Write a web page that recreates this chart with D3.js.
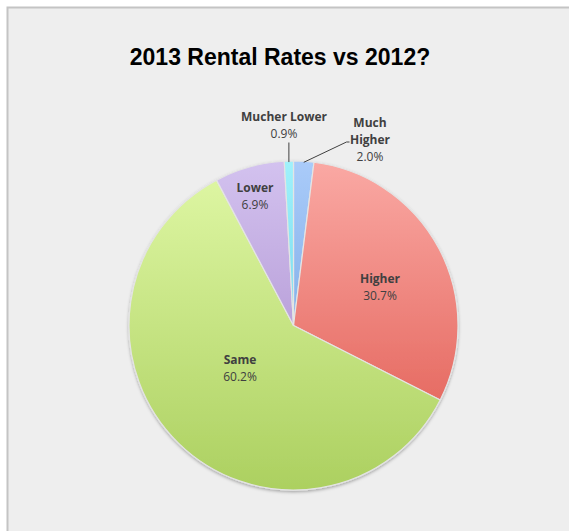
<!DOCTYPE html>
<html><head><meta charset="utf-8">
<script src="https://cdn.jsdelivr.net/npm/d3@7"></script>
<style>html,body{margin:0;padding:0;background:#fff;}svg{display:block;}</style>
</head><body>
<svg id="chart" width="569" height="531"></svg>
<script>
const categories = ["Much Higher", "Higher", "Same", "Lower", "Mucher Lower"];
const values = [2.0, 30.7, 60.2, 6.9, 0.9];
const labelLines = [["Much", "Higher"], ["Higher"], ["Same"], ["Lower"], ["Mucher Lower"]];
const colorsTop = ["#aacbf9", "#faa9a4", "#e0f8a6", "#d3c2ef", "#a0f1fb"];
const colorsBottom = ["#5d97da", "#df554b", "#acd060", "#a282c6", "#52c6df"];
const title = "2013 Rental Rates vs 2012?";

const svg = d3.select("#chart");
svg.append("rect").attr("x", 7.5).attr("y", 7.5).attr("width", 570).attr("height", 540)
  .attr("fill", "#eeeeee").attr("stroke", "#c4c4c4").attr("stroke-width", 2);

svg.append("text").attr("x", 280).attr("y", 65).attr("text-anchor", "middle")
  .attr("font-family", "Liberation Sans, Arial, sans-serif").attr("font-weight", "bold")
  .attr("font-size", 23).attr("fill", "#000").text(title);

const cx = 293.5, cy = 325.5, r = 164.5;
const defs = svg.append("defs");
const f = defs.append("filter").attr("id", "sh").attr("x", "-20%").attr("y", "-20%").attr("width", "140%").attr("height", "140%");
f.append("feDropShadow").attr("dx", 0).attr("dy", 1.5).attr("stdDeviation", 1.5).attr("flood-color", "#000").attr("flood-opacity", 0.3);

categories.forEach((c, i) => {
  const g = defs.append("linearGradient").attr("id", "g" + i).attr("gradientUnits", "userSpaceOnUse")
    .attr("x1", 0).attr("x2", 0).attr("y1", -r).attr("y2", r);
  g.append("stop").attr("offset", 0).attr("stop-color", colorsTop[i]);
  g.append("stop").attr("offset", 1).attr("stop-color", colorsBottom[i]);
});

const pie = d3.pie().sort(null).value(d => d)(values);
const arc = d3.arc().innerRadius(0).outerRadius(r);
const gp = svg.append("g").attr("transform", `translate(${cx},${cy})`);
gp.append("g").attr("filter", "url(#sh)").selectAll("path").data(pie).join("path")
  .attr("d", arc).attr("fill", (d, i) => `url(#g${i})`)
  .attr("stroke", "#e4e4e4").attr("stroke-width", 1.2).attr("stroke-linejoin", "round");

// label positions (relative to centre)
const labelPos = [[76.5, -199], [86.5, -42.5], [-53.5, 38.5], [-38.5, -133.5], [-9.5, -204.5]];
const font = "Open Sans, Noto Sans, sans-serif";
pie.forEach((d, i) => {
  const [lx, ly] = labelPos[i];
  const t = gp.append("text").attr("text-anchor", "middle").attr("font-family", font)
    .attr("font-size", 12).attr("fill", "#404040");
  const lines = labelLines[i];
  lines.forEach((ln, k) => {
    t.append("tspan").attr("x", lx).attr("y", ly + k * 17).attr("font-weight", "bold").text(ln);
  });
  t.append("tspan").attr("x", lx).attr("y", ly + lines.length * 17).text(d3.format(".1f")(values[i]) + "%");
});

// leader lines for the two small slices
function edge(d, rr) { const a = (d.startAngle + d.endAngle) / 2; return [Math.sin(a) * rr, -Math.cos(a) * rr]; }
const e4 = edge(pie[4], r);
gp.append("path").attr("d", d3.line()([[e4[0], -183], [e4[0], e4[1] + 1]]))
  .attr("stroke", "#404040").attr("stroke-width", 1).attr("fill", "none");
const e0 = edge(pie[0], r);
gp.append("path").attr("d", d3.line()([[56, -183.5], [53, -183.5], [e0[0], e0[1] + 1]]))
  .attr("stroke", "#404040").attr("stroke-width", 1).attr("fill", "none");
</script>
</body></html>
